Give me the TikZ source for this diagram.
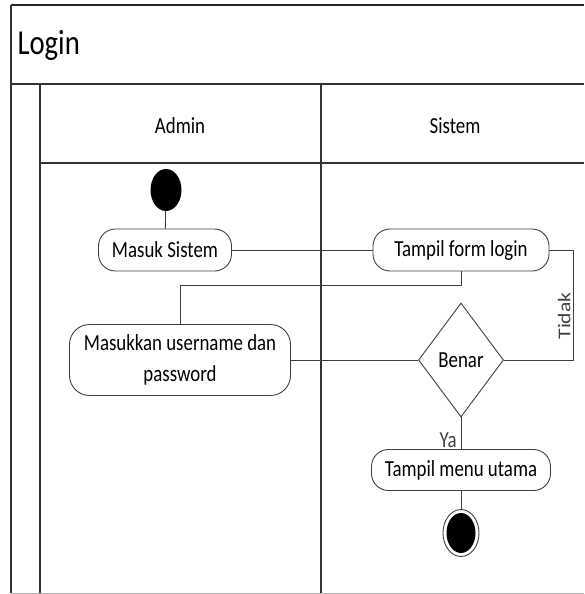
\documentclass[tikz,border=0pt]{standalone}
\usepackage{fontspec}
\setmainfont{Carlito}[FakeStretch = 0.82]
\newfontfamily\sidefont{Carlito}[FakeStretch = 1.2]
\usetikzlibrary{shapes.geometric}
\begin{document}
\begin{tikzpicture}[x = 1pt, y = -1pt,
        lane/.style = {black!80, line width = 1.1pt},
        label/.style = {font = \fontsize{23}{31}\selectfont},
        action/.style = {draw = black!75, line width = 0.9pt, rounded corners = 17pt, fill = white, label, inner sep = 2pt},
        flow/.style = {black!75, line width = 0.9pt}]
        \useasboundingbox (0, 0) rectangle (584, 594);
        \draw[black!85, line width = 1.4pt] (11, 5) -- (584, 5);
        \draw[lane] (11, 5) -- (11, 593);
        \draw[lane] (11, 84) -- (584, 84);
        \draw[lane] (40, 84) -- (40, 593);
        \draw[lane] (40, 163) -- (584, 163);
        \draw[lane] (321, 84) -- (321, 593);
        \draw[black!30, line width = 1pt] (11, 593) -- (584, 593);
        \node[anchor = west, font = \fontsize{35}{38}\selectfont] (title) at (14, 45) {Login};
        \node[label] (admin) at (180, 126) {Admin};
        \node[label] (sistem) at (455, 126) {Sistem};
        \node[ellipse, fill = black, minimum width = 31, minimum height = 42, inner sep = 0pt] (start) at (166, 190) {};
        \node[action, minimum width = 133, minimum height = 42] (masuk) at (165, 250) {Masuk Sistem};
        \node[action, minimum width = 176, minimum height = 42] (form) at (461, 250) {Tampil form login};
        \node[action, minimum width = 221, minimum height = 71, align = center, rounded corners = 20pt] (input) at (180, 360) {Masukkan username dan\\password};
        \node[diamond, draw = black!75, line width = 0.9pt, aspect = 0.75, minimum width = 85, minimum height = 114, inner sep = 0pt, fill = white, label] (benar) at (461, 360) {Benar};
        \node[action, minimum width = 179, minimum height = 41] (menu) at (461, 470) {Tampil menu utama};
        \node[ellipse, draw = black!75, line width = 0.9pt, minimum width = 36, minimum height = 47, inner sep = 0pt] (end) at (461, 533) {};
        \node[ellipse, fill = black, minimum width = 29, minimum height = 40, inner sep = 0pt] (endfill) at (end.center) {};
        \draw[flow] (start) -- (masuk);
        \draw[flow] (masuk) -- (form);
        \draw[flow] (form.south) -- ++(0, 14) -| (input.north);
        \draw[flow] (benar.west) -- (input.east);
        \draw[flow] (benar.east) -- ++(69, 0) |- (form.east) node[pos = 0.2, rotate = 90, above, inner sep = 2pt, font = \sidefont\fontsize{18}{20}\selectfont] {Tidak};
        \draw[flow] (benar.south) -- (menu.north) node[pos = 1, above left, inner sep = 1pt, xshift = -3pt, label] {Ya};
        \draw[flow] (menu) -- (end);
    \end{tikzpicture}
\end{document}
